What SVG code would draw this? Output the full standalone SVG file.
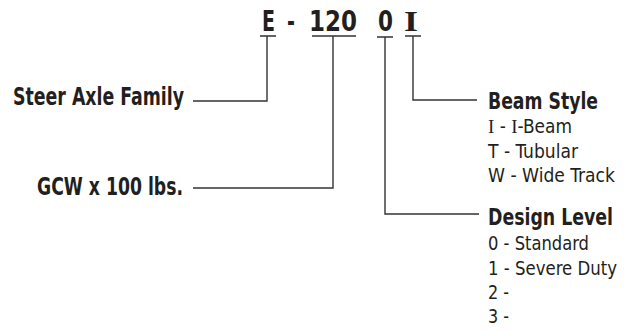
<svg xmlns="http://www.w3.org/2000/svg" width="636" height="331" viewBox="0 0 636 331">
<style>
.code{font-family:"Liberation Sans Narrow","DejaVu Sans Condensed",sans-serif;font-weight:bold;font-size:29px;fill:#231f20}
.serif{font-family:"Liberation Serif",serif}
.lbl{font-family:"Liberation Sans Narrow","DejaVu Sans Condensed",sans-serif;font-weight:bold;font-size:25px;fill:#231f20}
.hd{font-family:"Liberation Sans Narrow","DejaVu Sans Condensed",sans-serif;font-weight:bold;font-size:23.5px;fill:#231f20}
.body{font-family:"Liberation Sans Narrow","DejaVu Sans Condensed",sans-serif;font-size:19.5px;fill:#231f20}
.ln{fill:none;stroke:#333;stroke-width:1.4}
</style>
<rect width="636" height="331" fill="#fff"/>
<g id="code">
<text class="code" x="262" y="31" textLength="13" lengthAdjust="spacingAndGlyphs">E</text>
<text class="code" x="287" y="31" textLength="8" lengthAdjust="spacingAndGlyphs">-</text>
<text class="code" x="309" y="31" textLength="48" lengthAdjust="spacingAndGlyphs">120</text>
<text class="code" x="378" y="31" textLength="15" lengthAdjust="spacingAndGlyphs">0</text>
<text class="code serif" x="404" y="31" font-size="32" textLength="14" lengthAdjust="spacingAndGlyphs">I</text>
</g>
<g id="connectors">
<path class="ln" d="M260 36H276M267 36V101H193"/>
<path class="ln" d="M312 36H356M333 36V188H193"/>
<path class="ln" d="M377 37H393M385 37V214H479"/>
<path class="ln" d="M405 36H421M413 36V100H477"/>
</g>
<g id="steer-axle-family">
<text class="lbl" x="13" y="105" textLength="171" lengthAdjust="spacingAndGlyphs">Steer Axle Family</text>
</g>
<g id="gcw">
<text class="lbl" x="37" y="195" textLength="146" lengthAdjust="spacingAndGlyphs">GCW x 100 lbs.</text>
</g>
<g id="beam-style">
<text class="hd" x="488" y="109" textLength="110" lengthAdjust="spacingAndGlyphs">Beam Style</text>
<text class="body" x="488" y="133" textLength="84" lengthAdjust="spacingAndGlyphs"><tspan class="serif">I</tspan> - <tspan class="serif">I</tspan>-Beam</text>
<text class="body" x="488" y="157.5" textLength="90" lengthAdjust="spacingAndGlyphs">T - Tubular</text>
<text class="body" x="488" y="182" textLength="127" lengthAdjust="spacingAndGlyphs">W - Wide Track</text>
</g>
<g id="design-level">
<text class="hd" transform="translate(488 225) scale(0.8 1)" x="0" y="0" textLength="156.25" lengthAdjust="spacingAndGlyphs">Design Level</text>
<text class="body" x="488" y="250" textLength="101" lengthAdjust="spacingAndGlyphs">0 - Standard</text>
<text class="body" x="488" y="274.5" textLength="129" lengthAdjust="spacingAndGlyphs">1 - Severe Duty</text>
<text class="body" x="488" y="299" textLength="21" lengthAdjust="spacingAndGlyphs">2 -</text>
<text class="body" x="488" y="323" textLength="21" lengthAdjust="spacingAndGlyphs">3 -</text>
</g>
</svg>
